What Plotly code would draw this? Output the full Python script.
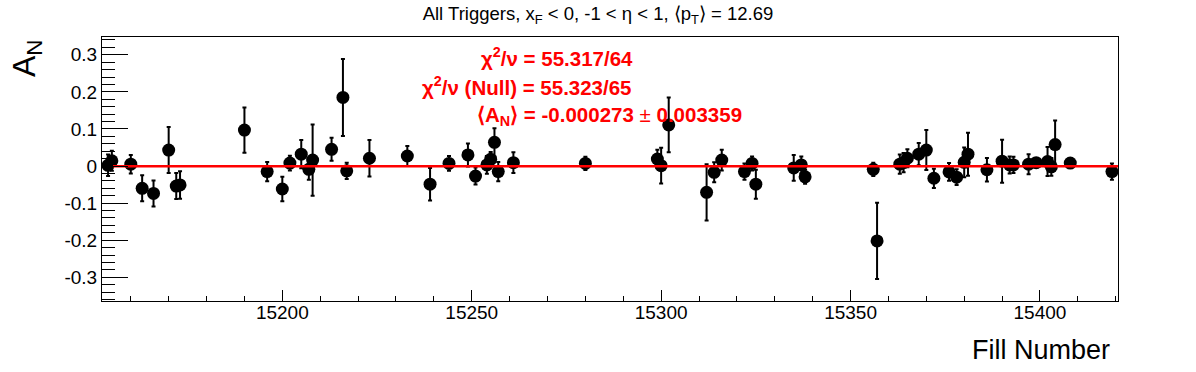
import plotly.graph_objects as go

# ---- data ----
fill_numbers = [15154, 15155, 15160, 15163, 15166, 15170, 15172, 15173, 15190, 15196,
                15200, 15202, 15205, 15207, 15208, 15213, 15216, 15217, 15223, 15233,
                15239, 15244, 15249, 15251, 15254, 15255, 15256, 15257, 15261, 15280,
                15299, 15300, 15302, 15312, 15314, 15316, 15322, 15324, 15325, 15335,
                15337, 15338, 15356, 15357, 15363, 15364, 15365, 15368, 15370, 15372,
                15376, 15378, 15380, 15381, 15386, 15390, 15392, 15393, 15397, 15399,
                15402, 15403, 15404, 15408, 15419]
an_values = [0.002, 0.014, 0.005, -0.060, -0.074, 0.043, -0.054, -0.051, 0.097, -0.015,
             -0.062, 0.008, 0.032, -0.009, 0.016, 0.045, 0.185, -0.013, 0.021, 0.027,
             -0.049, 0.007, 0.030, -0.027, 0.003, 0.018, 0.064, -0.015, 0.009, 0.007,
             0.019, 0.001, 0.111, -0.071, -0.017, 0.016, -0.015, 0.007, -0.049, -0.005,
             0.003, -0.029, -0.009, -0.202, 0.005, 0.009, 0.021, 0.032, 0.043, -0.033,
             -0.016, -0.030, 0.010, 0.032, -0.010, 0.013, 0.003, 0.003, 0.005, 0.009,
             0.012, -0.002, 0.058, 0.008, -0.015]
an_errors = [0.029, 0.027, 0.025, 0.035, 0.035, 0.062, 0.035, 0.037, 0.061, 0.026,
             0.033, 0.020, 0.038, 0.028, 0.096, 0.031, 0.104, 0.022, 0.049, 0.027,
             0.044, 0.020, 0.031, 0.023, 0.024, 0.020, 0.038, 0.026, 0.028, 0.018,
             0.025, 0.048, 0.074, 0.076, 0.027, 0.028, 0.022, 0.019, 0.039, 0.035,
             0.023, 0.019, 0.018, 0.103, 0.026, 0.026, 0.024, 0.030, 0.054, 0.026,
             0.024, 0.021, 0.040, 0.058, 0.032, 0.058, 0.023, 0.022, 0.027, 0.012,
             0.039, 0.024, 0.065, 0.013, 0.022]

fit_value = -0.000273
fit_error = 0.003359
fit_range = [15155.3, 15420.6]

x_range = [15152.4, 15420.6]
y_range = [-0.364, 0.348]

x_tick_vals = [15200, 15250, 15300, 15350, 15400]
x_tick_text = ["15200", "15250", "15300", "15350", "15400"]
y_tick_vals = [-0.3, -0.2, -0.1, 0.0, 0.1, 0.2, 0.3]
y_tick_text = ["-0.3", "-0.2", "-0.1", "0", "0.1", "0.2", "0.3"]

title_text = "All Triggers, x<sub>F</sub> < 0, -1 < η < 1, ⟨p<sub>T</sub>⟩ = 12.69"
stat_lines = [
    "χ<sup>2</sup>/ν = 55.317/64",
    "χ<sup>2</sup>/ν (Null) = 55.323/65",
    "⟨A<sub>N</sub>⟩ = %.6f <span style='font-weight:normal'>±</span> %.6f" % (fit_value, fit_error),
]

FONT = "Liberation Sans, Arial, Helvetica, sans-serif"

fig = go.Figure()

fig.add_trace(go.Scatter(
    x=fill_numbers, y=an_values, mode="markers",
    marker=dict(color="black", size=13),
    error_y=dict(type="data", array=an_errors, visible=True,
                 color="black", thickness=2, width=2),
    showlegend=False,
))

fig.add_trace(go.Scatter(
    x=fit_range, y=[fit_value, fit_value], mode="lines",
    line=dict(color="#ff0000", width=2.5),
    showlegend=False,
))

# plot area in px: left 102, right 1118, top 37, bottom 301
L, R, T, B = 102, 1118, 37, 301
W, H = 1196, 372


def px(xp):
    return (xp - L) / (R - L)


def py(yp):
    return (B - yp) / (B - T)


stat_pos = [(635, 57), (634, 86), (744, 116)]
stat_sizes = [20.5, 20.5, 20.5]
for txt, (xp, yp), sz in zip(stat_lines, stat_pos, stat_sizes):
    fig.add_annotation(
        text="<b>%s</b>" % txt, xref="paper", yref="paper",
        x=px(xp), y=py(yp), xanchor="right", yanchor="middle",
        showarrow=False, font=dict(family=FONT, size=sz, color="#ff0000"),
    )

# y-axis title (rotated, top-aligned as in ROOT)
fig.add_annotation(
    text="A<sub>N</sub>", xref="paper", yref="paper",
    x=px(26), y=py(37), xanchor="center", yanchor="top",
    textangle=-90, showarrow=False,
    font=dict(family=FONT, size=32, color="black"),
)

# x-axis title (right-aligned)
fig.add_annotation(
    text="Fill Number", xref="paper", yref="paper",
    x=px(1112), y=py(350), xanchor="right", yanchor="middle",
    showarrow=False, font=dict(family=FONT, size=27, color="black"),
)

fig.update_layout(
    width=W, height=H, autosize=False,
    margin=dict(l=L, r=W - R, t=T, b=H - B, pad=0),
    paper_bgcolor="white", plot_bgcolor="white",
    font=dict(family=FONT, color="black"),
    title=dict(text=title_text, x=0.5, xref="container", xanchor="center",
               y=1 - 14 / H, yref="container", yanchor="middle",
               font=dict(family=FONT, size=18.5, color="black")),
    xaxis=dict(range=x_range, showgrid=False, zeroline=False,
               showline=True, linecolor="black", linewidth=1, mirror=True,
               ticks="inside", ticklen=11, tickwidth=1, tickcolor="black",
               tickmode="array", tickvals=x_tick_vals, ticktext=x_tick_text,
               ticklabelstandoff=-6,
               tickfont=dict(family=FONT, size=19, color="black"),
               minor=dict(tickmode="linear", tick0=15150, dtick=10, ticks="inside",
                          ticklen=5, tickwidth=1, tickcolor="black", showgrid=False)),
    yaxis=dict(range=y_range, showgrid=False, zeroline=False,
               showline=True, linecolor="black", linewidth=1, mirror=True,
               ticks="inside", ticklen=26, tickwidth=1, tickcolor="black",
               tickmode="array", tickvals=y_tick_vals, ticktext=y_tick_text,
               tickfont=dict(family=FONT, size=19, color="black"),
               minor=dict(tickmode="linear", tick0=0, dtick=0.02, ticks="inside",
                          ticklen=13, tickwidth=1, tickcolor="black", showgrid=False)),
)

fig.write_html("out.html", config={"displayModeBar": False},
               post_script="document.body.style.margin='0px';document.body.style.padding='0px';")
